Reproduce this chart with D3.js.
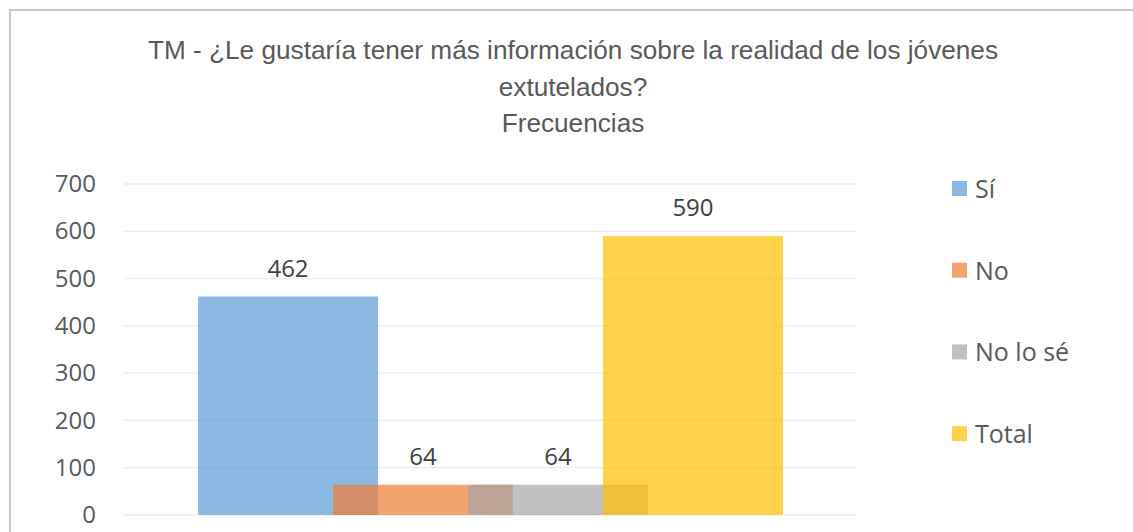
<!DOCTYPE html>
<html>
<head>
<meta charset="utf-8">
<script src="https://cdn.jsdelivr.net/npm/d3@7"></script>
<style>
  html, body { margin: 0; padding: 0; background: #fff; }
  svg { display: block; }
</style>
</head>
<body>
<svg id="chart" width="1133" height="532"></svg>
<script>
// Survey answers and their frequencies
const categories = ["Sí", "No", "No lo sé", "Total"];
const frequencies = [462, 64, 64, 590];
const seriesColors = ["#5B9BD5", "#ED7D31", "#A5A5A5", "#FFC000"];
const yTicks = [0, 100, 200, 300, 400, 500, 600, 700];
const titleLines = [
  "TM - ¿Le gustaría tener más información sobre la realidad de los jóvenes",
  "extutelados?",
  "Frecuencias"
];

const svg = d3.select("#chart");
const W = 1133, H = 532;

// Frame
svg.append("rect")
  .attr("x", 10).attr("y", 10)
  .attr("width", W + 20).attr("height", H + 20)
  .attr("fill", "#fff")
  .attr("stroke", "#c9c9c9").attr("stroke-width", 2);

// Plot area
const plot = { left: 124, right: 857, top: 184, bottom: 515 };

const y = d3.scaleLinear().domain([0, 700]).range([plot.bottom, plot.top]);
const x = d3.scalePoint().domain(categories)
  .range([plot.left, plot.right]).padding(1.215);
const barWidth = x.step() * 4 / 3;

// Title
const title = svg.append("text")
  .attr("text-anchor", "middle")
  .attr("font-family", "'Liberation Sans', Arial, sans-serif")
  .attr("font-size", 26.2)
  .attr("fill", "#595959");
titleLines.forEach((line, i) => {
  title.append("tspan").attr("x", 573).attr("y", 59 + i * 36.5).text(line);
});

// Gridlines
svg.append("g").selectAll("line")
  .data(yTicks)
  .join("line")
  .attr("x1", plot.left).attr("x2", plot.right)
  .attr("y1", d => y(d)).attr("y2", d => y(d))
  .attr("stroke", "#ececec").attr("stroke-width", 1.3);

// Y axis labels
const yAxis = svg.append("g")
  .attr("transform", `translate(${plot.left},0)`)
  .call(d3.axisLeft(y).tickValues(yTicks).tickSize(0).tickPadding(28));
yAxis.select(".domain").remove();
yAxis.selectAll("text")
  .attr("font-family", "'Open Sans', sans-serif")
  .attr("font-size", 24)
  .attr("fill", "#595959");

// Bars (semi-transparent, overlapping)
svg.append("g").selectAll("rect")
  .data(categories)
  .join("rect")
  .attr("x", d => x(d) - barWidth / 2)
  .attr("width", barWidth)
  .attr("y", (d, i) => y(frequencies[i]))
  .attr("height", (d, i) => y(0) - y(frequencies[i]))
  .attr("fill", (d, i) => seriesColors[i])
  .attr("fill-opacity", 0.7);

// Value labels
svg.append("g").selectAll("text")
  .data(categories)
  .join("text")
  .attr("x", d => x(d))
  .attr("y", (d, i) => y(frequencies[i]) - 20)
  .attr("text-anchor", "middle")
  .attr("font-family", "'Open Sans', sans-serif")
  .attr("font-size", 24)
  .attr("fill", "#404040")
  .text((d, i) => frequencies[i]);

// Legend
const legend = svg.append("g").selectAll("g")
  .data(categories)
  .join("g")
  .attr("transform", (d, i) => `translate(952, ${189 + i * 81.7})`);
legend.append("rect")
  .attr("x", 0).attr("y", -8)
  .attr("width", 15).attr("height", 15)
  .attr("fill", (d, i) => seriesColors[i])
  .attr("fill-opacity", 0.7);
legend.append("text")
  .attr("x", 23).attr("y", 9)
  .attr("font-family", "'Open Sans', sans-serif")
  .attr("font-size", 25)
  .attr("fill", "#595959")
  .text(d => d);
</script>
</body>
</html>
